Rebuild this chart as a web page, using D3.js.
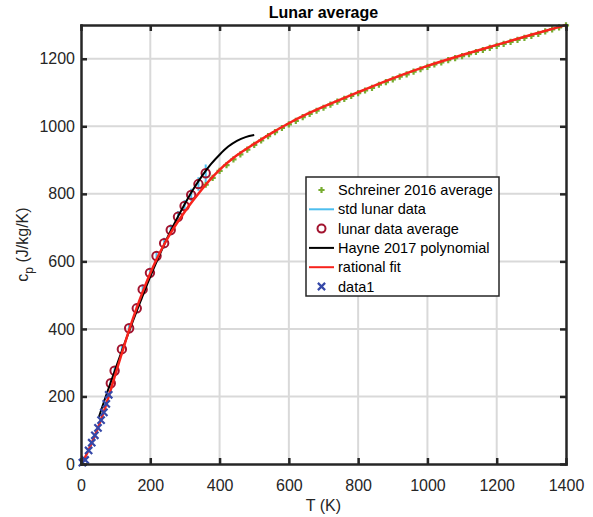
<!DOCTYPE html>
<html><head><meta charset="utf-8">
<script src="https://cdn.jsdelivr.net/npm/d3@7"></script>
<style>body{margin:0;background:#fff}svg{display:block;font-family:"Liberation Sans",Arial,Helvetica,sans-serif}</style>
</head><body><svg id="c" width="593" height="517"></svg>
<script>
// ---- data ----
const schreinerT = [360,380,400,420,440,460,480,500,520,540,560,580,600,620,640,660,680,700,720,740,760,780,800,820,840,860,880,900,920,940,960,980,1000,1020,1040,1060,1080,1100,1120,1140,1160,1180,1200,1220,1240,1260,1280,1300,1320,1340,1360,1380,1400];
const schreinerCp = [827,847,868,885,902,917,931,945,958,971,983,995,1006,1016,1027,1037,1046,1055,1064,1073,1081,1090,1098,1106,1114,1123,1131,1139,1147,1154,1162,1169,1176,1183,1189,1196,1202,1208,1214,1220,1226,1232,1238,1244,1250,1256,1262,1268,1274,1281,1287,1293,1299];
const lunarT  = [86,97,118,139,161,178,199,218,240,259,280,299,318,339,360];
const lunarCp = [239,276,340,402,461,517,566,616,654,693,732,764,797,829,861];
const lunarStd = [10,12,12,13,14,14,15,15,16,16,17,18,18,20,26];
const hayneT  = [52,60,80,100,125,150,175,200,225,250,275,300,325,350,375,400,425,450,475,500];
const hayneCp = [140,165,225,283,355,424,490,555,615,672,723,771,815,854,888,916,940,957,968,974];
const fitT  = [0,10,20,30,40,50,60,70,80,90,100,120,140,160,180,200,220,240,260,280,300,320,340,360,380,400,450,500,550,600,650,700,750,800,900,1000,1100,1200,1300,1400];
const fitCp = [0,16,37,60,84,110,138,168,200,234,268,335,400,460,515,565,610,650,686,718,748,776,802,827,850,871,914,948,980,1009,1035,1058,1080,1101,1142,1179,1211,1241,1271,1300];
const data1T  = [4,12,22,31,40,49,58,66,73,80];
const data1Cp = [4,12,40,63,85,107,130,153,178,205];
const xTicks = [0,200,400,600,800,1000,1200,1400];
const yTicks = [0,200,400,600,800,1000,1200];
const legendLabels = ["Schreiner 2016 average","std lunar data","lunar data average","Hayne 2017 polynomial","rational fit","data1"];

// ---- layout ----
const svg = d3.select("#c");
const L=81, R=566, T=25, B=464;
const x = d3.scaleLinear().domain([0,1400]).range([L,R]);
const y = d3.scaleLinear().domain([0,1300]).range([B,T]);
const ink = "#262626";
const C = {green:"#77AC30", cyan:"#4DBEEE", dred:"#A2142F", black:"#000000", red:"#F8231C", blue:"#3548A8"};
const fmt = d3.format("d");

// grid
const g = svg.append("g");
g.selectAll(".gx").data(xTicks.filter(d=>d>0&&d<1400)).join("line")
  .attr("x1",d=>x(d)).attr("x2",d=>x(d)).attr("y1",T).attr("y2",B)
  .attr("stroke","#d9d9d9").attr("stroke-width",2);
g.selectAll(".gy").data(yTicks.filter(d=>d>0)).join("line")
  .attr("y1",d=>y(d)).attr("y2",d=>y(d)).attr("x1",L).attr("x2",R)
  .attr("stroke","#d9d9d9").attr("stroke-width",2);

const plot = svg.append("g");
// Schreiner (+)
const plusPath = (cx,cy,s)=>`M${cx-s},${cy}H${cx+s}M${cx},${cy-s}V${cy+s}`;
plot.append("path")
  .attr("d", schreinerT.map((t,i)=>plusPath(x(t),y(schreinerCp[i]),3.1)).join(""))
  .attr("stroke",C.green).attr("stroke-width",2.2).attr("fill","none");
// std lunar data (vertical segments)
plot.append("path")
  .attr("d", lunarT.map((t,i)=>`M${x(t)},${y(lunarCp[i]-lunarStd[i])}V${y(lunarCp[i]+lunarStd[i])}`).join(""))
  .attr("stroke",C.cyan).attr("stroke-width",2).attr("fill","none");
// lunar data average circles
plot.selectAll(".circ").data(lunarT).join("circle")
  .attr("cx",d=>x(d)).attr("cy",(d,i)=>y(lunarCp[i])).attr("r",4.2)
  .attr("fill","none").attr("stroke",C.dred).attr("stroke-width",2);
// Hayne polynomial
const line = d3.line().curve(d3.curveMonotoneX);
plot.append("path")
  .attr("d", line(hayneT.map((t,i)=>[x(t),y(hayneCp[i])])))
  .attr("fill","none").attr("stroke",C.black).attr("stroke-width",2);
// rational fit
plot.append("path")
  .attr("d", line(fitT.map((t,i)=>[x(t),y(fitCp[i])])))
  .attr("fill","none").attr("stroke",C.red).attr("stroke-width",2.5);
// data1 (x)
const xPath = (cx,cy,s)=>`M${cx-s},${cy-s}L${cx+s},${cy+s}M${cx-s},${cy+s}L${cx+s},${cy-s}`;
plot.append("path")
  .attr("d", data1T.map((t,i)=>xPath(x(t),y(data1Cp[i]),3.6)).join(""))
  .attr("stroke",C.blue).attr("stroke-width",2.2).attr("fill","none");

// axes
function styleAxis(sel){
  sel.selectAll("path,line").attr("stroke",ink).attr("stroke-width",2.5);
  sel.selectAll("text").attr("fill",ink).attr("font-size",16);
}
svg.append("g").attr("transform",`translate(0,${B})`)
  .call(d3.axisBottom(x).tickValues(xTicks).tickFormat(fmt).tickSizeInner(-6).tickSizeOuter(0).tickPadding(16))
  .call(styleAxis).call(s=>s.selectAll("text").attr("dy","0.71em"));
svg.append("g").attr("transform",`translate(${L},0)`)
  .call(d3.axisLeft(y).tickValues(yTicks).tickFormat(fmt).tickSizeInner(-6).tickSizeOuter(0).tickPadding(6))
  .call(styleAxis);
svg.append("g").attr("transform",`translate(0,${T})`)
  .call(d3.axisTop(x).tickValues(xTicks).tickSizeInner(-6).tickSizeOuter(0).tickFormat(""))
  .call(styleAxis);
svg.append("g").attr("transform",`translate(${R},0)`)
  .call(d3.axisRight(y).tickValues(yTicks).tickSizeInner(-6).tickSizeOuter(0).tickFormat(""))
  .call(styleAxis);
svg.selectAll(".domain").attr("stroke-linecap","square");

// title and labels
svg.append("text").attr("x",(L+R)/2).attr("y",18).attr("text-anchor","middle")
  .attr("font-size",16).attr("font-weight","bold").attr("fill","#000").text("Lunar average");
svg.append("text").attr("x",(L+R)/2).attr("y",511).attr("text-anchor","middle")
  .attr("font-size",16).attr("fill",ink).text("T (K)");
const yl = svg.append("text").attr("transform",`translate(28,${(T+B)/2}) rotate(-90)`)
  .attr("text-anchor","middle").attr("font-size",16).attr("fill",ink);
yl.append("tspan").text("c");
yl.append("tspan").attr("font-size",12).attr("dy",5).text("p");
yl.append("tspan").attr("dy",-5).text(" (J/kg/K)");

// legend
const lg = svg.append("g");
const lx=306, ly=177, lw=193, lh=119;
lg.append("rect").attr("x",lx).attr("y",ly).attr("width",lw).attr("height",lh)
  .attr("fill","#fff").attr("stroke",ink).attr("stroke-width",1.5);
const rowY = i => ly + 13 + i*19.3;
legendLabels.forEach((lab,i)=>{
  const cy = rowY(i), cx = 321.5;
  if(i===0) lg.append("path").attr("d",plusPath(cx,cy,3.1)).attr("stroke",C.green).attr("stroke-width",2.2);
  if(i===1) lg.append("line").attr("x1",309).attr("x2",334).attr("y1",cy).attr("y2",cy).attr("stroke",C.cyan).attr("stroke-width",2);
  if(i===2) lg.append("circle").attr("cx",cx).attr("cy",cy).attr("r",4).attr("fill","none").attr("stroke",C.dred).attr("stroke-width",2);
  if(i===3) lg.append("line").attr("x1",309).attr("x2",334).attr("y1",cy).attr("y2",cy).attr("stroke",C.black).attr("stroke-width",2);
  if(i===4) lg.append("line").attr("x1",309).attr("x2",334).attr("y1",cy).attr("y2",cy).attr("stroke",C.red).attr("stroke-width",2);
  if(i===5) lg.append("path").attr("d",xPath(cx,cy,3.6)).attr("stroke",C.blue).attr("stroke-width",2.2);
  lg.append("text").attr("x",338).attr("y",cy).attr("dy","0.35em")
    .attr("font-size",14.5).attr("fill","#000").text(lab);
});
</script></body></html>
